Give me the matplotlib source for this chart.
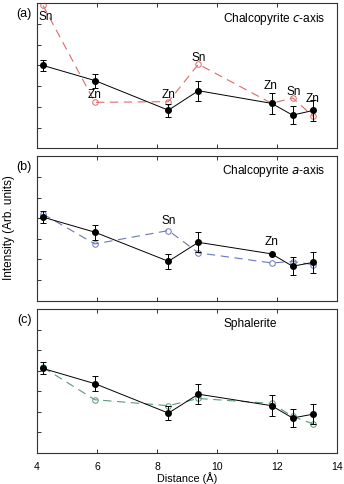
import numpy as np
import matplotlib
matplotlib.use('Agg')
import matplotlib.pyplot as plt

plt.rcParams['font.family'] = ['Liberation Sans', 'DejaVu Sans']
plt.rcParams['lines.scale_dashes'] = False

# Відстані (Å)
distance = [4.2, 5.93, 8.38, 9.38, 11.82, 12.52, 13.21]

# Експеримент (чорні точки) з похибками
exp_a = [4.0, 3.27, 1.84, 2.78, 2.17, 1.6, 1.83]
err_a = [0.27, 0.34, 0.32, 0.49, 0.5, 0.45, 0.5]
exp_b = [4.05, 3.32, 1.91, 2.83, 2.27, 1.67, 1.86]
err_b = [0.28, 0.36, 0.35, 0.49, 0.0, 0.44, 0.5]
exp_c = [4.11, 3.37, 1.94, 2.86, 2.3, 1.7, 1.89]
err_c = [0.29, 0.36, 0.35, 0.5, 0.51, 0.44, 0.49]

# Розрахунок (пунктир)
calc_a = [6.9, 2.22, 2.25, 4.06, 2.17, 2.43, 1.54]
calc_b = [4.2, 2.75, 3.4, 2.32, 1.83, 1.9, 1.75]
calc_c = [4.16, 2.59, 2.3, 2.65, 2.41, 1.78, 1.41]

# Підписи атомів
atoms_a = [('Sn', 4.3, 6.4), ('Zn', 5.93, 2.6), ('Zn', 8.38, 2.6), ('Sn', 9.4, 4.4),
           ('Zn', 11.77, 3.06), ('Sn', 12.55, 2.78), ('Zn', 13.2, 2.45)]
atoms_b = [('Sn', 8.38, 3.91), ('Zn', 11.82, 2.9)]

panels = [
    ('(a)', exp_a, err_a, calc_a, '#e06868', atoms_a, 'a'),
    ('(b)', exp_b, err_b, calc_b, '#6a78b8', atoms_b, 'b'),
    ('(c)', exp_c, err_c, calc_c, '#5a9a78', [], 'c'),
]

fig = plt.figure(figsize=(3.44, 4.85), dpi=100)
W, H = 344, 485
boxes = [(4.3, 149.3), (157.3, 301.7), (310, 454)]

for (label, exp, err, calc, col, atoms, key), (top, bot) in zip(panels, boxes):
    ax = fig.add_axes([37 / W, 1 - bot / H, 300 / W, (bot - top) / H])
    ax.plot(distance, calc, color=col, lw=0.8, dashes=[6, 4],
            marker='o', mfc='none', mec=col, ms=4, mew=0.7)
    ax.errorbar(distance, exp, yerr=err, color='black', lw=0.7, marker='o',
                ms=4, capsize=2, elinewidth=0.7, capthick=0.7)
    for name, x, y in atoms:
        ax.text(x, y, name, ha='center', va='center', fontsize=8.5)
    if key == 'a':
        ax.text(13.6, 6.3, 'Chalcopyrite $\\it{c}$-axis', ha='right', va='center', fontsize=8.6)
    elif key == 'b':
        ax.text(13.6, 6.33, 'Chalcopyrite $\\it{a}$-axis', ha='right', va='center', fontsize=8.6)
    else:
        ax.text(11.1, 6.34, 'Sphalerite', ha='center', va='center', fontsize=8.6)
    fig.text(24 / W, 1 - (top + 10) / H, label, ha='center', va='center', fontsize=9)

    ax.set_xlim(4, 14)
    ax.set_ylim(0, 7)
    ax.set_xticks([4, 6, 8, 10, 12, 14])
    ax.set_yticks([1, 2, 3, 4, 5, 6])
    ax.set_yticklabels([])
    ax.tick_params(direction='in', length=3, width=0.7, top=True, labelsize=7.5,
                   color='#333333')
    for s in ax.spines.values():
        s.set_linewidth(0.8)
        s.set_color('#333333')
    if key != 'c':
        ax.set_xticklabels([])
    else:
        ax.tick_params(axis='x', pad=6)
        ax.set_xlabel('Distance (Å)', fontsize=7.8, labelpad=0)

fig.text(9 / W, 1 - 228 / H, 'Intensity (Arb. units)', rotation=90,
         ha='center', va='center', fontsize=8.5)

fig.savefig('out.png', dpi=100)
